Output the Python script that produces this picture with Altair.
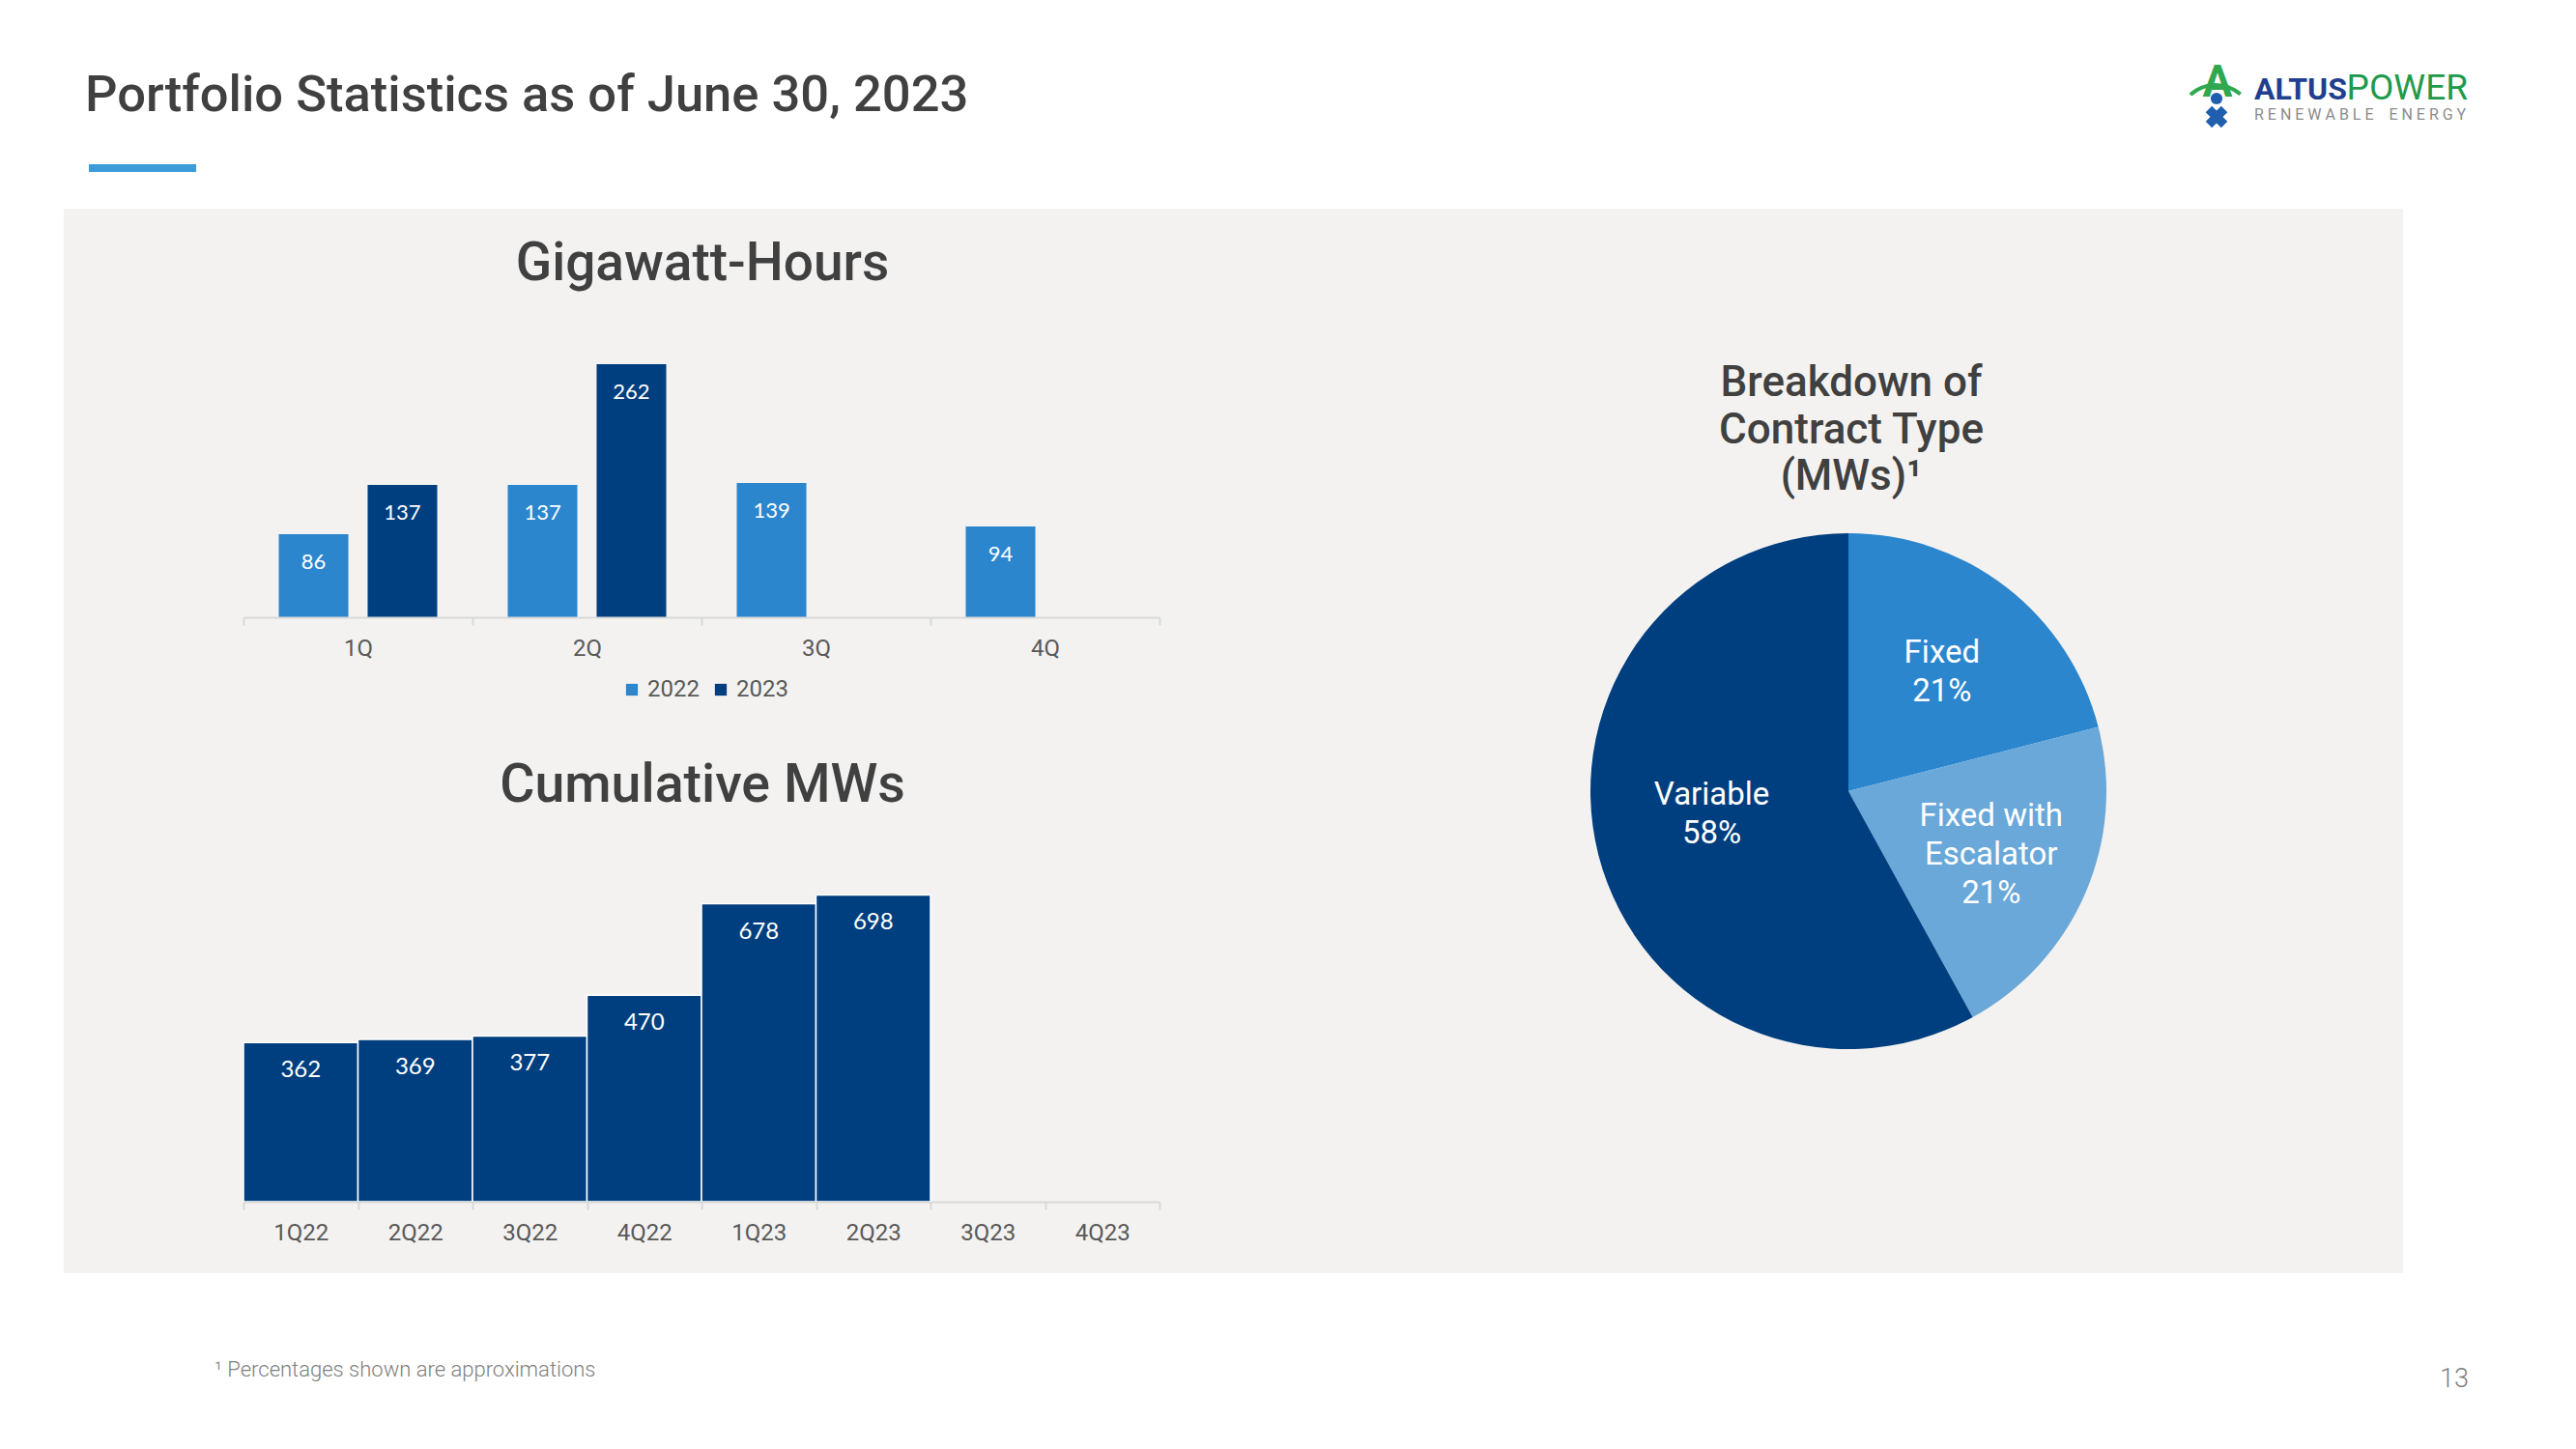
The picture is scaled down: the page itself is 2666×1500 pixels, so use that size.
import altair as alt
import pandas as pd

# ---------------- data ----------------
gwh_quarters = ["1Q", "2Q", "3Q", "4Q"]
gwh_years = ["2022", "2023"]
gwh_2022 = [86, 137, 139, 94]
gwh_2023 = [137, 262, None, None]

cum_quarters = ["1Q22", "2Q22", "3Q22", "4Q22", "1Q23", "2Q23", "3Q23", "4Q23"]
cum_mws = [362, 369, 377, 470, 678, 698, None, None]

contract_types = ["Fixed", "Fixed with Escalator", "Variable"]
contract_pct = [21, 21, 58]
contract_labels = ["Fixed\n21%", "Fixed with\nEscalator\n21%", "Variable\n58%"]

# ---------------- style ----------------
C2022 = "#2B86CE"
C2023 = "#003F7F"
CESC = "#69A8D9"
PANEL = "#F3F2F0"
TXT = "#404040"
AXT = "#595959"
W, H = 2650, 1484

one = pd.DataFrame({"k": [0]})


def txt(s, x, y, size, color=TXT, weight="normal", align="left",
        baseline="alphabetic", font="Roboto", **kw):
    return alt.Chart(one).mark_text(
        text=s, font=font, fontSize=size, fontWeight=weight, color=color,
        align=align, baseline=baseline, **kw
    ).encode(x=alt.value(x), y=alt.value(y))


def box(x, x2, y, y2, color):
    return alt.Chart(one).mark_rect(color=color).encode(
        x=alt.value(x), x2=alt.value(x2), y=alt.value(y), y2=alt.value(y2))


def band_axis(axis_y):
    return alt.Axis(orient="bottom", offset=axis_y - H, title=None, labelAngle=0,
                    tickBand="extent", domainColor="#D9D9D9", domainWidth=2,
                    tickColor="#D9D9D9", tickWidth=2, tickSize=8,
                    labelFont="Roboto", labelFontSize=24, labelColor=AXT,
                    labelPadding=12, grid=False, zindex=1)


# ---------------- decorations ----------------
panel = box(58, 2479, 208, 1310, PANEL)
main_title = txt("Portfolio Statistics as of June 30, 2023", 80, 107, 52.5, weight=500)
underline = box(84, 195, 162, 170, "#3C9BD9")

NB = "\u00a0"
logo = [
    txt("ALTUS", 2325, 95, 32, color="#1F3F8F", weight="bold"),
    txt("POWER", 2546, 95, 37, color="#1F9A4B", align="right"),
    txt("R E N E W A B L E" + NB * 4 + "E N E R G Y", 2325, 116, 16, color="#8C8C8C"),
    txt("A", 2287, 92, 46, color="#2FA84F", weight="bold", align="center"),
    alt.Chart(one).mark_arc(innerRadius=37, outerRadius=41, color="#2FA84F").encode(
        theta=alt.value(5.55), theta2=alt.value(7.0), x=alt.value(2285), y=alt.value(119)),
    alt.Chart(one).mark_point(filled=True, shape="circle", size=150, color="#1F5FAE", opacity=1)
        .encode(x=alt.value(2286), y=alt.value(94)),
    alt.Chart(one).mark_point(filled=True, shape="cross", angle=45, size=520, color="#1F5FAE", opacity=1)
        .encode(x=alt.value(2286), y=alt.value(113)),
]

# ---------------- Gigawatt-Hours ----------------
rows = []
for i, q in enumerate(gwh_quarters):
    for yr, vals in zip(gwh_years, [gwh_2022, gwh_2023]):
        if vals[i] is not None:
            rows.append({"quarter": q, "year": yr, "gwh": vals[i]})
gwh_df = pd.DataFrame(rows)

gx = alt.X("quarter:N", sort=gwh_quarters,
           scale=alt.Scale(domain=gwh_quarters, range=[244, 1192], paddingInner=0, paddingOuter=0),
           axis=band_axis(631))
gy = alt.Y("gwh:Q", scale=alt.Scale(domain=[0, 300], range=[631, 331]), axis=None)
gxo = alt.XOffset("year:N", scale=alt.Scale(domain=gwh_years, paddingInner=0.217, paddingOuter=0.397))
gcol = alt.Color("year:N", scale=alt.Scale(domain=gwh_years, range=[C2022, C2023]),
                 legend=alt.Legend(orient="none", legendX=634, legendY=694, direction="horizontal",
                                   title=None, symbolType="square", symbolSize=150,
                                   symbolStrokeWidth=0, labelFont="Roboto", labelFontSize=24,
                                   labelColor=AXT, labelOffset=4, columnPadding=10, padding=0))

gwh_bars = alt.Chart(gwh_df).mark_bar().encode(x=gx, y=gy, xOffset=gxo, color=gcol)
gwh_lbl = alt.Chart(gwh_df).mark_text(
    font="Lato", fontSize=22, color="white", baseline="middle", dy=29
).encode(x=gx, y=gy, xOffset=gxo, text=alt.Text("gwh:Q", format="d"))
gwh = alt.layer(gwh_bars, gwh_lbl)
gwh_title = txt("Gigawatt-Hours", 719, 282, 55, align="center", weight=500)

# ---------------- Cumulative MWs ----------------
cum_df = pd.DataFrame({"q": cum_quarters, "mw": cum_mws}).dropna()
cx = alt.X("q:N", sort=cum_quarters,
           scale=alt.Scale(domain=cum_quarters, range=[244, 1192], paddingInner=0, paddingOuter=0),
           axis=band_axis(1236))
cy = alt.Y("mw:Q", scale=alt.Scale(domain=[0, 800], range=[1236, 872]), axis=None)
cum_bars = alt.Chart(cum_df).mark_bar(color=C2023, stroke="white", strokeWidth=1.5).encode(x=cx, y=cy)
cum_lbl = alt.Chart(cum_df).mark_text(
    font="Lato", fontSize=24, color="white", baseline="middle", dy=29
).encode(x=cx, y=cy, text=alt.Text("mw:Q", format="d"))
cum = alt.layer(cum_bars, cum_lbl)
cum_title = txt("Cumulative MWs", 719, 822, 55.5, align="center", weight=500)

# ---------------- Pie ----------------
pie_df = pd.DataFrame({"type": contract_types, "pct": contract_pct,
                       "label": contract_labels, "idx": list(range(len(contract_types)))})
th = alt.Theta("pct:Q", stack=True)
PCX, PCY = 1905, 811
pie_arc = alt.Chart(pie_df).mark_arc(outerRadius=267).encode(
    theta=th, order=alt.Order("idx:Q"),
    color=alt.Color("type:N", scale=alt.Scale(domain=contract_types, range=[C2022, CESC, C2023]),
                    legend=None),
    x=alt.value(PCX), y=alt.value(PCY))

# one label layer per slice so each multi-line block can be centred on its slice
label_style = [(158, -18), (161, -38), (146, -32)]  # (radius, dy) per slice
pie_lbls = []
for i, (rad, dy) in enumerate(label_style):
    pie_lbls.append(
        alt.Chart(pie_df).transform_calculate(
            t=f"datum.idx == {i} ? datum.label : ''"
        ).mark_text(
            radius=rad, dy=dy, font="Roboto", fontSize=33, color="white", lineBreak="\n",
            lineHeight=40, align="center", baseline="middle"
        ).encode(theta=th, order=alt.Order("idx:Q"), detail="type:N", text="t:N",
                 x=alt.value(PCX), y=alt.value(PCY))
    )
pie = alt.layer(pie_arc, *pie_lbls)
pie_title = txt("Breakdown of\nContract Type\n(MWs)\u00b9", 1908, 389, 44, weight=500,
                align="center", baseline="middle", lineBreak="\n", lineHeight=48.5)

# ---------------- footer ----------------
footnote = txt("\u00b9 Percentages shown are approximations", 214, 1417, 22,
               color="#808080", weight=300)
pagenum = txt("13", 2547, 1428, 27, color="#808080", weight=300, align="right")

chart = alt.layer(
    panel, main_title, underline, *logo,
    gwh_title, gwh, cum_title, cum, pie_title, pie,
    footnote, pagenum
).resolve_scale(
    x="independent", y="independent", color="independent",
    xOffset="independent", theta="independent"
).properties(
    width=W, height=H, padding=0, background="white",
    autosize=alt.AutoSizeParams(type="none")
).configure_view(stroke=None)

chart.save("out.html", embed_options={"renderer": "svg", "actions": False})
